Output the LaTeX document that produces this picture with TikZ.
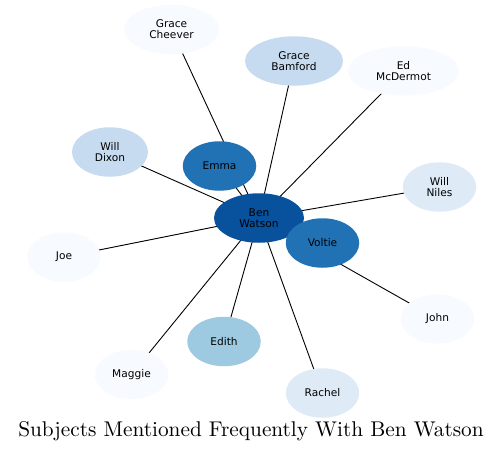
\documentclass[tikz,border=0pt]{standalone}
\usepackage{fontspec}
\setsansfont{DejaVu Sans}
\newfontfamily\titlefont{lmroman10-regular.otf}
\usetikzlibrary{shapes.geometric}
\pgfdeclarelayer{background}
\pgfsetlayers{background,main}
\definecolor{cBen}{HTML}{08519C}
\definecolor{cMid}{HTML}{2171B5}
\definecolor{cEdith}{HTML}{9ECAE1}
\definecolor{cLt}{HTML}{C6DBEF}
\definecolor{cLtr}{HTML}{DEEBF7}
\definecolor{cPale}{HTML}{F7FBFF}
\tikzset{
  person/.style={ellipse, inner sep=0pt, minimum height=49.5pt, minimum width=73.5pt,
    align=center, font=\sffamily\fontsize{10.6}{11.2}\selectfont, text=black, draw=none},
  link/.style={draw=black, line width=0.9pt}
}
\begin{document}
\begin{tikzpicture}[x=1pt,y=-1pt]
\useasboundingbox (0,0) rectangle (504,453);
\node[person, fill=cBen, minimum width=90pt] (ben) at (259,218) {Ben\\Watson};
\node[person, fill=cPale, minimum width=95pt] (gc) at (171.5,29.5) {Grace\\Cheever};
\node[person, fill=cLt, minimum width=98pt] (gb) at (294,61) {Grace\\Bamford};
\node[person, fill=cPale, minimum width=111pt] (ed) at (403.5,71) {Ed\\McDermot};
\node[person, fill=cLt, minimum width=76pt] (wd) at (110,152) {Will\\Dixon};
\node[person, fill=cMid] (emma) at (219.5,166) {Emma};
\node[person, fill=cLtr] (wn) at (439.5,187) {Will\\Niles};
\node[person, fill=cPale] (joe) at (64,257) {Joe};
\node[person, fill=cMid] (voltie) at (322.5,243) {Voltie};
\node[person, fill=cPale] (john) at (437.5,319) {John};
\node[person, fill=cEdith] (edith) at (224,341.5) {Edith};
\node[person, fill=cPale] (maggie) at (131.5,374.5) {Maggie};
\node[person, fill=cLtr] (rachel) at (322.5,393) {Rachel};
\begin{pgfonlayer}{background}
\foreach \t in {gc,gb,ed,wd,emma,wn,joe,voltie,john,edith,maggie,rachel}
  \draw[link] (ben.center) -- (\t.center);
\end{pgfonlayer}
\node[font=\titlefont\fontsize{21.3}{24}\selectfont, inner sep=0pt, anchor=base] (title) at (251,436.5) {Subjects Mentioned Frequently With Ben Watson};
\end{tikzpicture}
\end{document}
